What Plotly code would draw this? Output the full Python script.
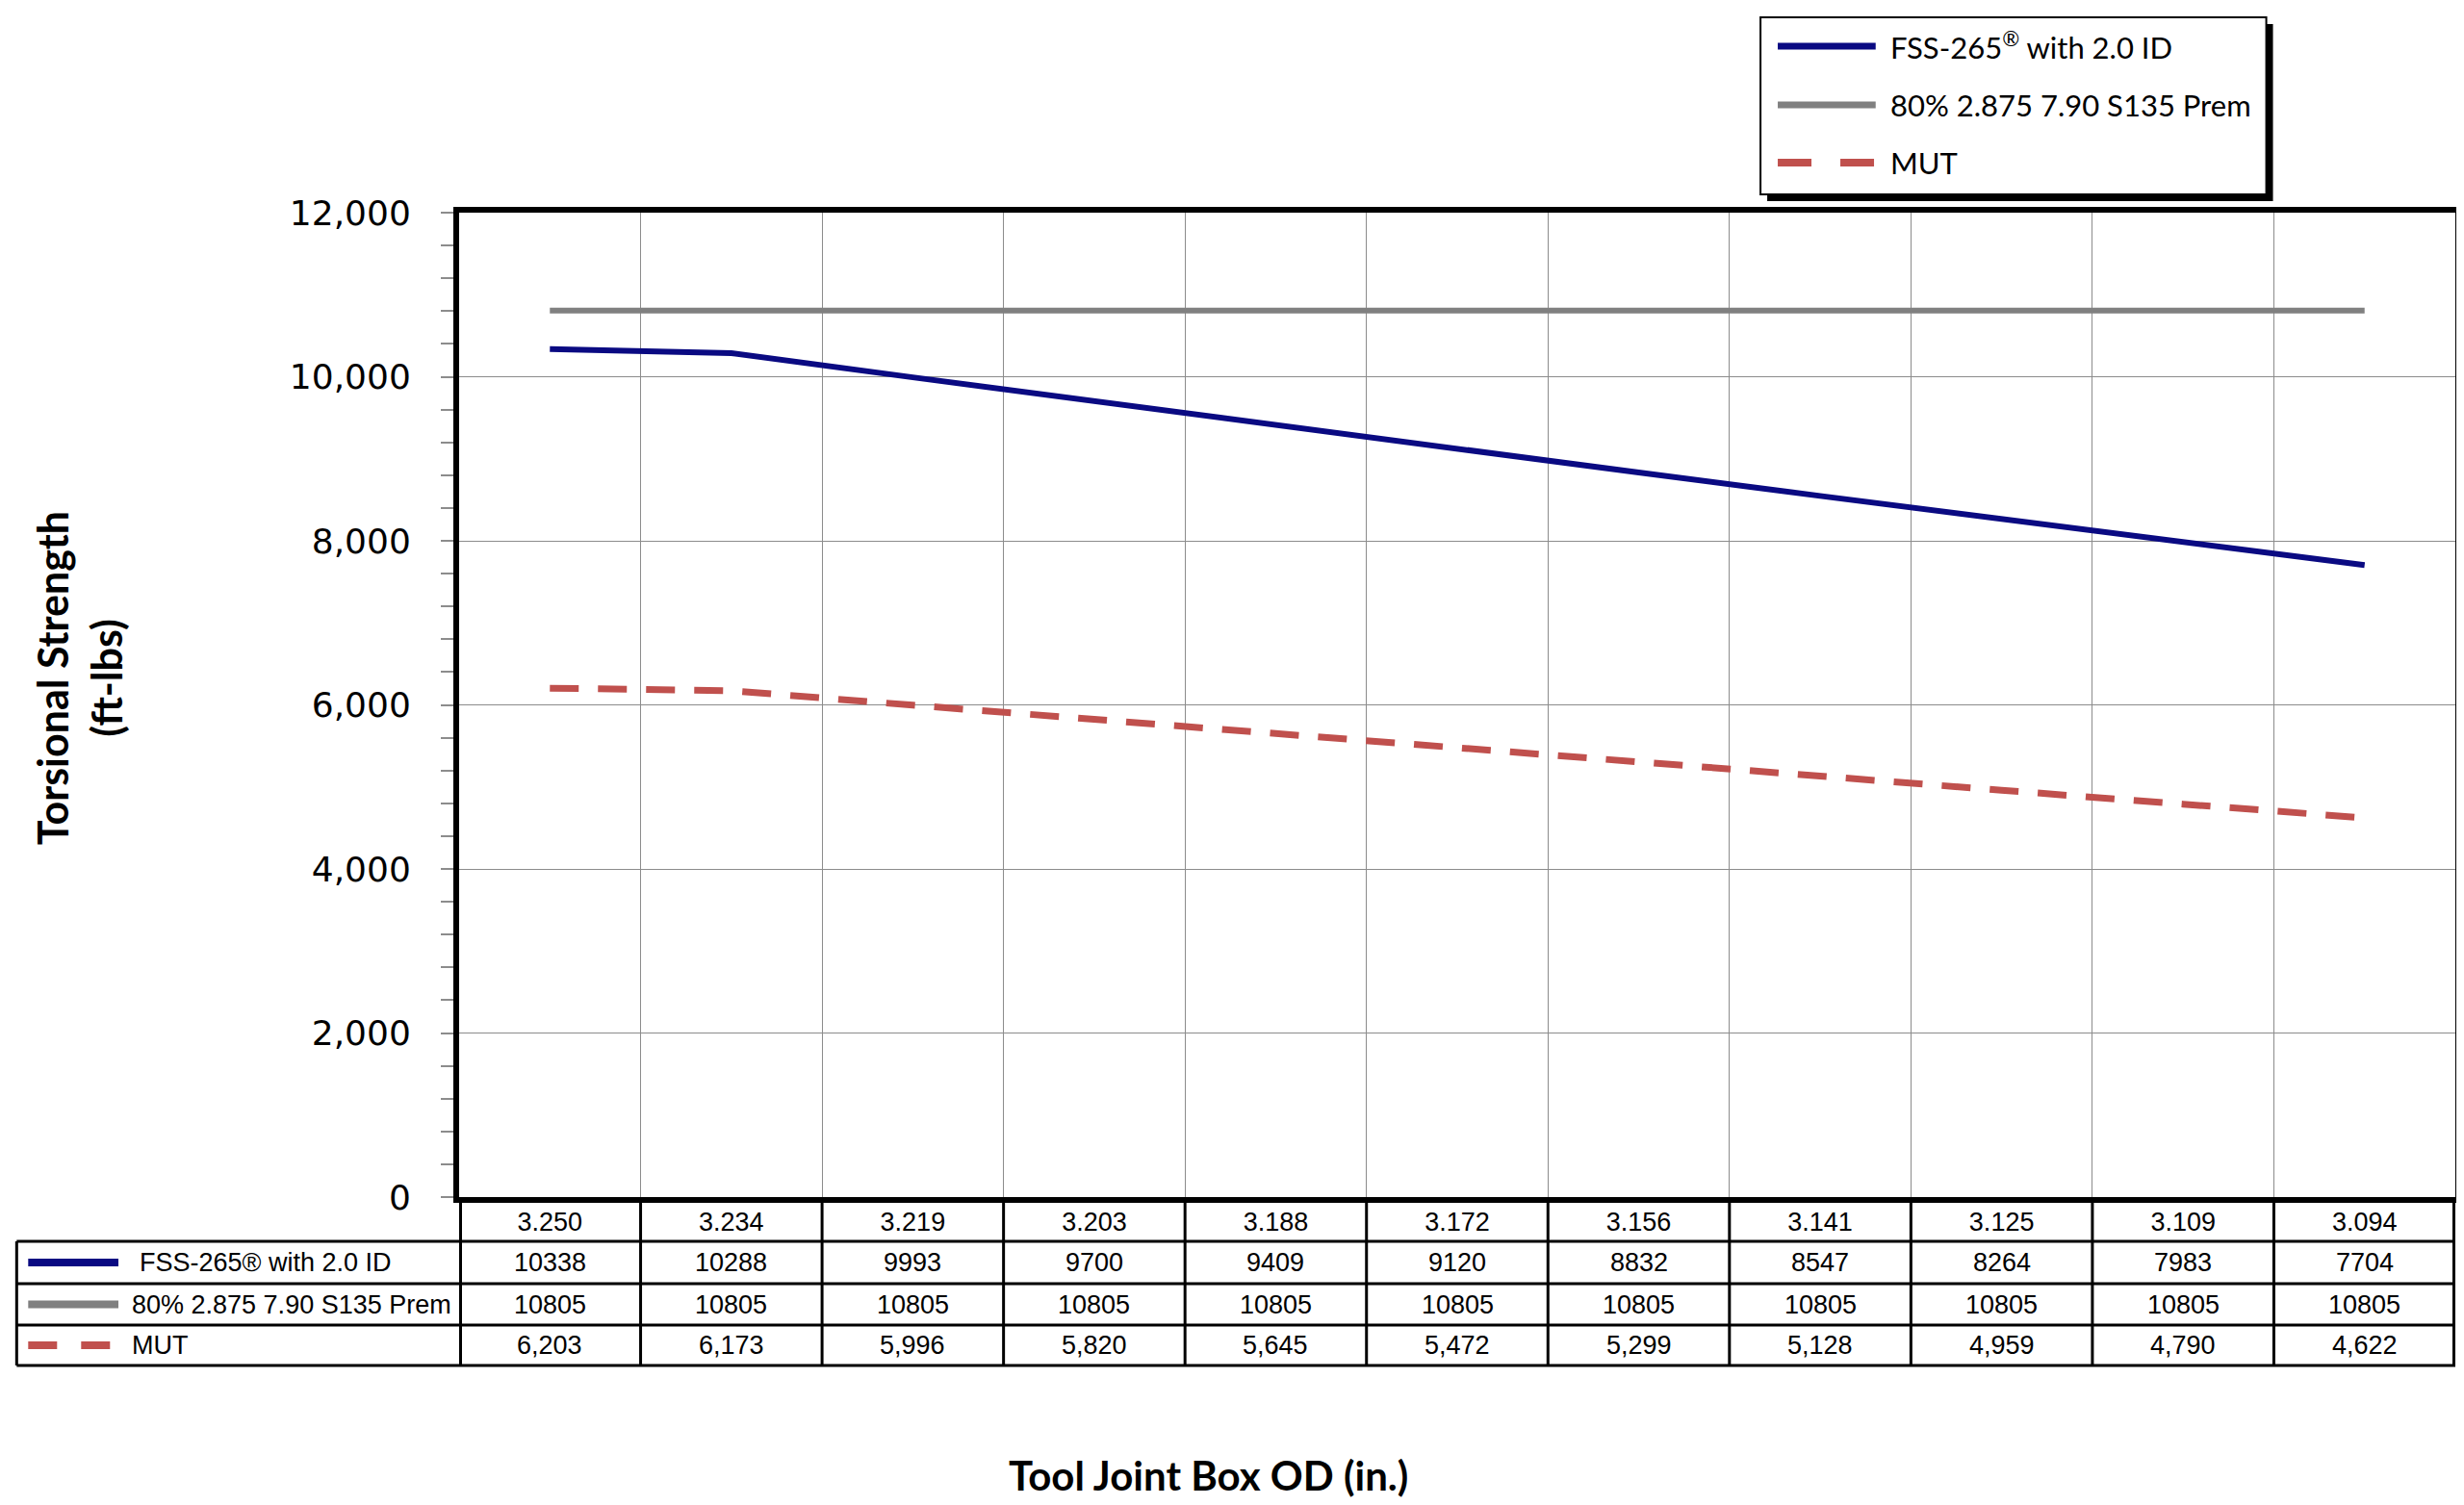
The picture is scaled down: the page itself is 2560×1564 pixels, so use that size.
import plotly.graph_objects as go

box_od = ["3.250", "3.234", "3.219", "3.203", "3.188", "3.172",
          "3.156", "3.141", "3.125", "3.109", "3.094"]
fss_265 = [10338, 10288, 9993, 9700, 9409, 9120, 8832, 8547, 8264, 7983, 7704]
prem_80 = [10805, 10805, 10805, 10805, 10805, 10805, 10805, 10805, 10805, 10805, 10805]
mut = [6203, 6173, 5996, 5820, 5645, 5472, 5299, 5128, 4959, 4790, 4622]

series_names = ["FSS-265® with 2.0 ID", "80% 2.875 7.90 S135 Prem", "MUT"]
legend_names = ["FSS-265<sup>®</sup> with 2.0 ID", "80% 2.875 7.90 S135 Prem", "MUT"]
series_values = [fss_265, prem_80, mut]
series_fmt = ["{:d}", "{:d}", "{:,d}"]

# ── Styles ────────────────────────────────────────────────────────────────────
COLOURS = ["#0a0a82", "#808080", "#c0504d"]
DASHES = ["solid", "solid", "30px,20px"]
WIDTHS = [6, 6, 7]
GRID = "#8c8c8c"

W, H = 2560, 1564
L, R, T, B = 469, 11, 213, 328
PW, PH = W - L - R, H - T - B


def px(x):
    """Pixel x -> paper x."""
    return (x - L) / PW


def py(y):
    """Pixel y -> paper y."""
    return (H - B - y) / PH


fig = go.Figure()
for name, vals, col, dash, w in zip(legend_names, series_values, COLOURS, DASHES, WIDTHS):
    fig.add_trace(
        go.Scatter(
            x=box_od,
            y=vals,
            mode="lines",
            name=name,
            line=dict(color=col, dash=dash, width=w),
            showlegend=False,
        )
    )

shapes = []
annots = []

# ── Data table under the plot ─────────────────────────────────────────────────
row_edges = [1282, 1326, 1369, 1411]  # pixel rows (row 1 holds the x tick labels)
label_x = [134, 126, 126]             # where each row's series name starts
table_left = px(8)
for ye in row_edges:
    shapes.append(dict(type="line", xref="paper", yref="paper",
                       x0=table_left, x1=1, y0=py(ye), y1=py(ye),
                       line=dict(color="black", width=3)))
shapes.append(dict(type="line", xref="paper", yref="paper",
                   x0=table_left, x1=table_left, y0=py(row_edges[0]), y1=py(row_edges[-1]),
                   line=dict(color="black", width=3)))
for i in range(len(box_od) + 1):
    shapes.append(dict(type="line", xref="x", yref="paper",
                       x0=i - 0.5, x1=i - 0.5, y0=0, y1=py(row_edges[-1]),
                       line=dict(color="black", width=3 if 0 < i < len(box_od) else 6)))

for r, (name, vals, fmt, col, dash) in enumerate(
        zip(series_names, series_values, series_fmt, COLOURS, DASHES)):
    yc = py((row_edges[r] + row_edges[r + 1]) / 2)
    shapes.append(dict(type="line", xref="paper", yref="paper",
                       x0=px(20), x1=px(114) if r < 2 else px(110), y0=yc, y1=yc,
                       line=dict(color=col, width=8, dash="30px,25px" if r == 2 else "solid")))
    annots.append(dict(xref="paper", yref="paper", x=px(label_x[r]), y=yc, text=name,
                       showarrow=False, xanchor="left", yanchor="middle",
                       font=dict(family="Liberation Sans", size=27, color="black")))
    # category axis: annotation x is the category's serial number
    for i, v in enumerate(vals):
        annots.append(dict(xref="x", yref="paper", x=i, y=yc, text=fmt.format(v),
                           showarrow=False, xanchor="center", yanchor="middle",
                           font=dict(family="Liberation Sans", size=27, color="black")))

# ── Legend box (drawn by hand to get the drop shadow) ─────────────────────────
lx0, lx1, ly0, ly1 = 1825, 2352, 10, 194
shapes.append(dict(type="rect", xref="paper", yref="paper",
                   x0=px(lx0 + 7), x1=px(lx1 + 7), y0=py(ly0 + 7), y1=py(ly1 + 7),
                   fillcolor="black", line=dict(width=0), layer="above"))
shapes.append(dict(type="rect", xref="paper", yref="paper",
                   x0=px(lx0), x1=px(lx1), y0=py(ly0), y1=py(ly1),
                   fillcolor="white", line=dict(color="black", width=2), layer="above"))
for name, col, dash, w, ye in zip(legend_names, COLOURS, DASHES, WIDTHS, [40, 101, 161]):
    shapes.append(dict(type="line", xref="paper", yref="paper",
                       x0=px(1843), x1=px(1945), y0=py(ye), y1=py(ye), layer="above",
                       line=dict(color=col, width=w + 1,
                                 dash="35px,30px" if dash != "solid" else "solid")))
    annots.append(dict(xref="paper", yref="paper", x=px(1958), y=py(ye), text=name,
                       showarrow=False, xanchor="left", yanchor="middle",
                       font=dict(family="Lato", size=31, color="black")))

# ── Axis titles ───────────────────────────────────────────────────────────────
annots.append(dict(xref="paper", yref="paper", x=px(73), y=py(697),
                   text="Torsional Strength<br>(ft-lbs)", textangle=-90,
                   showarrow=False, xanchor="center", yanchor="middle",
                   font=dict(family="Lato", size=43, color="black", weight="bold")))
annots.append(dict(xref="paper", yref="paper", x=px(1250), y=py(1525),
                   text="Tool Joint Box OD (in.)",
                   showarrow=False, xanchor="center", yanchor="middle",
                   font=dict(family="Lato", size=42, color="black", weight="bold")))

fig.update_layout(
    width=W,
    height=H,
    margin=dict(l=L, r=R, t=T, b=B),
    plot_bgcolor="white",
    paper_bgcolor="white",
    showlegend=False,
    shapes=shapes,
    annotations=annots,
    xaxis=dict(
        type="category",
        range=[-0.5, len(box_od) - 0.5],
        tickson="boundaries",
        showgrid=True,
        gridcolor=GRID,
        gridwidth=1,
        ticks="",
        showline=True,
        linecolor="black",
        linewidth=6,
        mirror=True,
        tickfont=dict(family="Liberation Sans", size=27, color="black"),
        ticklabelstandoff=-3,
    ),
    yaxis=dict(
        range=[0, 12000],
        dtick=2000,
        tickformat=",d",
        showgrid=True,
        gridcolor=GRID,
        gridwidth=1,
        zeroline=False,
        ticks="outside",
        ticklen=13,
        tickcolor=GRID,
        tickwidth=2,
        minor=dict(dtick=400, ticks="outside", ticklen=13, tickcolor=GRID,
                   tickwidth=2, showgrid=False),
        showline=True,
        linecolor="black",
        linewidth=6,
        mirror=True,
        tickfont=dict(family="DejaVu Sans", size=36, color="black"),
        ticklabelstandoff=24,
    ),
)

fig.write_html("out.html")
